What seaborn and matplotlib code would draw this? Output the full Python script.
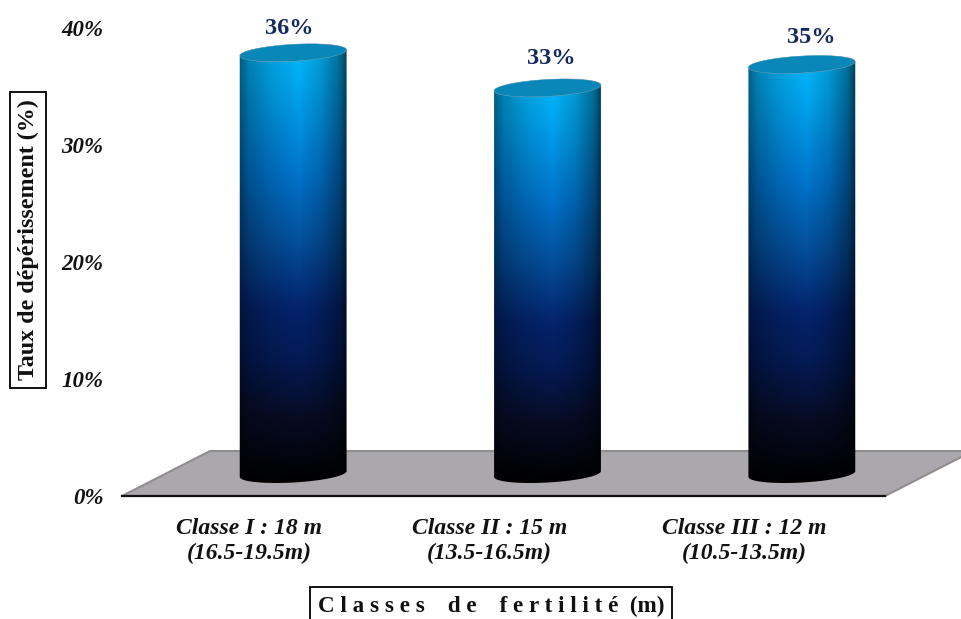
import matplotlib
matplotlib.use('Agg')
import matplotlib.pyplot as plt
import numpy as np
import seaborn as sns
from matplotlib.colors import LinearSegmentedColormap
from matplotlib.patches import PathPatch, Polygon
from matplotlib.path import Path
from matplotlib.transforms import Affine2D, IdentityTransform

classes = ['Classe I : 18 m\n(16.5-19.5m)', 'Classe II : 15 m\n(13.5-16.5m)', 'Classe III : 12 m\n(10.5-13.5m)']
rates = [36, 33, 35]
y_ticks = [0, 10, 20, 30, 40]
y_tick_labels = ['0%', '10%', '20%', '30%', '40%']

sns.set_theme(style='white')
plt.rcParams['font.family'] = ['Liberation Serif', 'DejaVu Serif']

W, H = 961, 619
fig = plt.figure(figsize=(W / 100, H / 100), dpi=100)
ax = fig.add_axes([122 / W, (H - 496) / H, 763 / W, 468 / H])

sns.barplot(x=classes, y=rates, ax=ax, width=107 / 254, color='#0070c0')
ax.set_ylim(0, 40)
ax.set_xlim(-0.5, 2.5)
ax.patch.set_alpha(0)

# the bars stand in the middle of the floor, the floor goes back by (88, 45)
DX, DY = 44, 22
shift = ax.transData + Affine2D().translate(DX, DY)

# floor
p0 = ax.transData.transform((-0.5, 0))
p1 = ax.transData.transform((2.5, 0))
floor = Polygon([p0, p1, p1 + (88, 45), p0 + (88, 45)], closed=True, transform=IdentityTransform(),
                facecolor='#aaa7ad', edgecolor='#8e8e8e', lw=1.5, clip_on=False, zorder=-1)
fig.add_artist(floor)

vert = LinearSegmentedColormap.from_list('vert', [
    (0.0, '#00bcff'), (0.1, '#00a8f0'), (0.3, '#0074cc'), (0.45, '#04509c'),
    (0.6, '#04246e'), (0.72, '#041a54'), (0.85, '#070c24'), (1.0, '#000000')])


def ellipse(cx, cy, a, b, tilt, t):
    xs = a * np.cos(t)
    ys = b * np.sin(t)
    c, s = np.cos(tilt), np.sin(tilt)
    return np.column_stack([cx + xs * c - ys * s, cy + xs * s + ys * c])


TILT = np.radians(3.2)
for bar, value in zip(list(ax.patches), rates):
    bar.set_alpha(0)
    xc = bar.get_x() + bar.get_width() / 2
    cx, top = shift.transform((xc, value))
    _, base = shift.transform((xc, 0))
    a = 53.5
    b = 8.5

    # body: upper half of the top ellipse + lower half of the bottom ellipse
    up = ellipse(cx, top, a, b, TILT, np.linspace(0, np.pi, 60))
    low = ellipse(cx, base, a, b, TILT, np.linspace(np.pi, 2 * np.pi, 60))
    pts = np.vstack([up, low, up[:1]])
    body = PathPatch(Path(pts), transform=IdentityTransform(), fc='none', ec='none')
    ax.add_patch(body)

    v = np.linspace(0, 1, 256)
    u = np.linspace(0, 1, 128)
    rgb = vert(v)[:, :3]
    shade = np.interp(u, [0, 0.1, 0.3, 0.55, 0.75, 0.92, 1], [0.5, 0.72, 0.88, 1.0, 0.85, 0.6, 0.3])
    img = rgb[:, None, :] * shade[None, :, None]
    im = ax.imshow(img, extent=(cx - a - 2, cx + a + 2, base - b - 3, top + b + 3),
                   origin='upper', aspect='auto', transform=IdentityTransform(), zorder=2)
    im.set_clip_path(body)

    lid = ellipse(cx, top, a, b, TILT, np.linspace(0, 2 * np.pi, 120))
    ax.add_patch(Polygon(lid, closed=True, transform=IdentityTransform(), fc='#0887b8',
                         ec='#8fa6b2', lw=0.3, zorder=3))

ax.set_xlim(-0.5, 2.5)
ax.set_ylim(0, 40)

# value labels
label_offsets = [(-4, 24), (4, 29), (9, 27)]
for i, value in enumerate(rates):
    off = label_offsets[i]
    ax.annotate('{}%'.format(value), xy=(i, value), xycoords='data',
                xytext=(DX + off[0], DY + off[1]), textcoords='offset pixels',
                ha='center', va='center', fontsize=17.5, fontweight='bold', color='#14295e',
                annotation_clip=False, zorder=5)

sns.despine(ax=ax, left=True, right=True, top=True)
ax.spines['bottom'].set_color('#111111')
ax.spines['bottom'].set_linewidth(1.6)

ax.set_yticks(y_ticks)
ax.set_yticklabels(y_tick_labels, fontsize=16.5, fontweight='bold', fontstyle='italic', color='#111111')
ax.set_xticks([0, 0.945, 1.945])
ax.set_xticklabels(classes, fontsize=17, fontweight='bold', fontstyle='italic', color='#111111', linespacing=1.25)
ax.tick_params(axis='y', length=0, pad=13.5)
ax.tick_params(axis='x', length=0, pad=15.5)

ax.set_ylabel('Taux de dépérissement (%)', fontsize=17.3, fontweight='bold', color='#111111',
              bbox=dict(boxstyle='square,pad=0.3', fc='white', ec='black', lw=1.3))
ax.yaxis.set_label_coords((28 - 122) / 763, (496 - 240) / 468)
ax.set_xlabel('C l a s s e s    d e    f e r t i l i t é  (m)', fontsize=16.7, fontweight='bold', color='#111111',
              bbox=dict(boxstyle='square,pad=0.35', fc='white', ec='black', lw=1.3))
ax.xaxis.set_label_coords((491 - 122) / 763, (496 - 606) / 468)
ax.xaxis.label.set_va('center')
ax.yaxis.label.set_va('center')

fig.savefig('out.png', dpi=100, facecolor='white')
